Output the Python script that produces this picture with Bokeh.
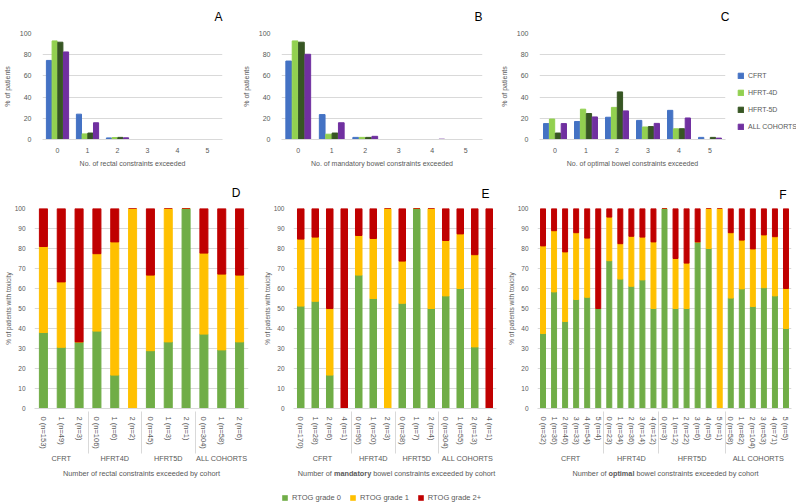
from bokeh.plotting import figure
from bokeh.models import (ColumnDataSource, FactorRange, Range1d, Legend, LegendItem, Label)
from bokeh.transform import dodge
from bokeh.layouts import row, column
from bokeh.embed import file_html
from bokeh.resources import INLINE

FONT = "Liberation Sans"
TXT = "#595959"
GRID = "#D9D9D9"

# ---------------- top row data (A, B, C) ----------------
n_exceeded = ["0", "1", "2", "3", "4", "5"]
series_names = ["CFRT", "HFRT-4D", "HFRT-5D", "ALL COHORTS"]
series_colors = ["#4472C4", "#92D050", "#375623", "#7030A0"]

rectal_cfrt = [74.6, 23.9, 1.5, 0, 0, 0]
rectal_hfrt4d = [93.0, 5.3, 1.8, 0, 0, 0]
rectal_hfrt5d = [91.8, 6.1, 2.0, 0, 0, 0]
rectal_all = [82.6, 15.8, 1.6, 0, 0, 0]

mand_cfrt = [74.0, 23.5, 2.0, 0, 0, 0]
mand_hfrt4d = [93.0, 5.0, 2.0, 0, 0, 0]
mand_hfrt5d = [91.8, 6.1, 2.0, 0, 0, 0]
mand_all = [80.4, 15.8, 3.0, 0, 0.3, 0]

opt_cfrt = [15.0, 17.0, 21.0, 18.0, 27.5, 2.0]
opt_hfrt4d = [19.3, 28.6, 30.3, 11.8, 10.1, 0]
opt_hfrt5d = [6.1, 24.5, 44.9, 12.2, 10.2, 2.0]
opt_all = [15.0, 21.3, 27.0, 15.2, 20.3, 1.3]

# ---------------- bottom row data (D, E, F) ----------------
grade_names = ["RTOG grade 0", "RTOG grade 1", "RTOG grade 2+"]
grade_colors = ["#70AD47", "#FFC000", "#C00000"]

rectal_cohort = ["CFRT"] * 3 + ["HFRT4D"] * 3 + ["HFRT5D"] * 3 + ["ALL COHORTS"] * 3
rectal_labels = ["0 (n=153)", "1 (n=49)", "2 (n=3)",
                 "0 (n=106)", "1 (n=6)", "2 (n=2)",
                 "0 (n=45)", "1 (n=3)", "2 (n=1)",
                 "0 (n=304)", "1 (n=58)", "2 (n=6)"]
rectal_g0 = [38.0, 30.6, 33.3, 38.7, 16.7, 0, 28.9, 33.3, 100, 37.2, 29.3, 33.3]
rectal_g1 = [43.0, 32.7, 0, 38.7, 66.6, 100, 37.8, 66.7, 0, 40.5, 37.9, 33.4]
rectal_g2 = [19.0, 36.7, 66.7, 22.6, 16.7, 0, 33.3, 0, 0, 22.3, 32.8, 33.3]

mand_cohort = ["CFRT"] * 4 + ["HFRT4D"] * 3 + ["HFRT5D"] * 3 + ["ALL COHORTS"] * 4
mand_labels = ["0 (n=170)", "1 (n=28)", "2 (n=6)", "4 (n=1)",
               "0 (n=96)", "1 (n=20)", "2 (n=3)",
               "0 (n=38)", "1 (n=7)", "2 (n=4)",
               "0 (n=304)", "1 (n=55)", "2 (n=13)", "4 (n=1)"]
mand_g0 = [51.2, 53.6, 16.7, 0, 66.7, 55.0, 0, 52.6, 100, 50.0, 56.3, 60.0, 30.8, 0]
mand_g1 = [33.5, 32.1, 33.3, 0, 19.8, 30.0, 100, 21.1, 0, 50.0, 27.7, 27.3, 46.1, 0]
mand_g2 = [15.3, 14.3, 50.0, 100, 13.5, 15.0, 0, 26.3, 0, 0, 16.0, 12.7, 23.1, 100]

opt_cohort = ["CFRT"] * 6 + ["HFRT4D"] * 5 + ["HFRT5D"] * 6 + ["ALL COHORTS"] * 6
opt_labels = ["0 (n=32)", "1 (n=36)", "2 (n=46)", "3 (n=33)", "4 (n=54)", "5 (n=4)",
              "0 (n=23)", "1 (n=34)", "2 (n=36)", "3 (n=14)", "4 (n=12)",
              "0 (n=3)", "1 (n=12)", "2 (n=22)", "3 (n=6)", "4 (n=5)", "5 (n=1)",
              "0 (n=58)", "1 (n=82)", "2 (n=104)", "3 (n=53)", "4 (n=71)", "5 (n=5)"]
opt_g0 = [37.5, 58.3, 43.5, 54.5, 55.6, 50.0, 73.9, 64.7, 61.1, 64.3, 50.0,
          100, 50.0, 50.0, 83.3, 80.0, 0, 55.2, 59.8, 51.0, 60.4, 56.3, 40.0]
opt_g1 = [43.8, 30.6, 34.8, 33.4, 29.6, 0, 21.8, 17.7, 25.0, 21.4, 33.3,
          0, 25.0, 22.7, 0, 20.0, 100, 32.7, 24.4, 28.8, 26.4, 29.6, 20.0]
opt_g2 = [18.7, 11.1, 21.7, 12.1, 14.8, 50.0, 4.3, 17.6, 13.9, 14.3, 16.7,
          0, 25.0, 27.3, 16.7, 0, 0, 12.1, 15.8, 20.2, 13.2, 14.1, 40.0]


def style(p):
    p.outline_line_color = None
    p.background_fill_color = "white"
    p.border_fill_color = "white"
    p.xgrid.grid_line_color = None
    p.ygrid.grid_line_color = GRID
    p.yaxis.axis_line_color = None
    p.yaxis.major_tick_line_color = None
    p.yaxis.minor_tick_line_color = None
    p.xaxis.axis_line_color = GRID
    p.xaxis.major_tick_line_color = None
    p.xaxis.minor_tick_line_color = None
    for ax in (p.xaxis[0], p.yaxis[0]):
        ax.major_label_text_font = FONT
        ax.major_label_text_font_size = "7px"
        ax.major_label_text_color = TXT
        ax.axis_label_text_font = FONT
        ax.axis_label_text_font_size = "7px"
        ax.axis_label_text_color = TXT
        ax.axis_label_text_font_style = "normal"
    p.title.text_font = FONT
    p.title.text_font_size = "12px"
    p.title.text_font_style = "normal"
    p.title.text_color = "black"
    p.title.align = "right"


def top_panel(letter, xlabel, vals, left, frame_w, right, t_off=0, legend=False):
    src = ColumnDataSource(dict(x=n_exceeded, s0=vals[0], s1=vals[1], s2=vals[2], s3=vals[3]))
    p = figure(x_range=FactorRange(*n_exceeded, range_padding=0), y_range=Range1d(0, 100),
               frame_width=frame_w, frame_height=106, min_border_left=left,
               min_border_right=right, min_border_top=33, min_border_bottom=35,
               output_backend="svg", toolbar_location=None, title=letter)
    offsets = [-0.285, -0.095, 0.095, 0.285]
    rs = []
    for i, col in enumerate(["s0", "s1", "s2", "s3"]):
        r = p.vbar(x=dodge("x", offsets[i], range=p.x_range), top=col, width=0.17,
                   source=src, color=series_colors[i])
        rs.append(r)
    style(p)
    p.title.standoff = 15
    p.title.vertical_align = "top"
    p.title.offset = t_off
    p.yaxis.ticker = [0, 20, 40, 60, 80, 100]
    p.yaxis.axis_label = "% of patients"
    p.xaxis.axis_label = xlabel
    p.yaxis.axis_label_standoff = 6
    p.yaxis.major_label_standoff = 5
    p.xaxis.major_label_standoff = 2
    p.xaxis.axis_label_standoff = 4
    if legend:
        lg = Legend(items=[LegendItem(label=series_names[i], renderers=[rs[i]]) for i in range(4)],
                    location=(12, 9), orientation="vertical",
                    glyph_width=7, glyph_height=7, label_height=8, spacing=9,
                    label_standoff=4, padding=0, margin=0,
                    label_text_font=FONT, label_text_font_size="7px", label_text_color=TXT,
                    background_fill_alpha=0, border_line_color=None)
        p.add_layout(lg, "right")
    return p


def stack_panel(letter, cohort, labels, g0, g1, g2, left, frame_w, right, top,
                t_off, t_standoff):
    factors = list(zip(cohort, labels))
    src = ColumnDataSource(dict(x=factors, g0=g0, g1=g1, g2=g2))
    p = figure(x_range=FactorRange(*factors, group_padding=0, factor_padding=0, range_padding=0),
               y_range=Range1d(0, 100), frame_width=frame_w, frame_height=200,
               min_border_left=left, min_border_right=right, min_border_top=top,
               min_border_bottom=55, output_backend="svg", toolbar_location=None,
               title=letter)
    p.vbar_stack(["g0", "g1", "g2"], x="x", width=0.45, color=grade_colors, source=src)
    style(p)
    p.title.standoff = t_standoff
    p.title.offset = t_off
    p.yaxis.ticker = list(range(0, 101, 10))
    p.yaxis.axis_label = "% of patients with toxicity"
    p.yaxis.axis_label_standoff = 0
    p.yaxis.major_label_standoff = 3
    p.yaxis.major_label_text_font_size = "6.5px"
    p.yaxis.axis_label_text_font_size = "6.5px"
    p.xaxis.major_label_orientation = "vertical"
    p.xaxis.major_label_text_font_size = "7.5px"
    p.xaxis.major_label_standoff = 2
    p.xaxis.group_text_font = FONT
    p.xaxis.group_text_font_size = "7.3px"
    p.xaxis.group_text_font_style = "normal"
    p.xaxis.group_text_color = TXT
    p.xaxis.separator_line_color = GRID
    p.xaxis.separator_line_width = 1
    return p


pA = top_panel("A", "No. of rectal constraints exceeded",
               [rectal_cfrt, rectal_hfrt4d, rectal_hfrt5d, rectal_all], 42, 180, 17)
pB = top_panel("B", "No. of mandatory bowel constraints exceeded",
               [mand_cfrt, mand_hfrt4d, mand_hfrt5d, mand_all], 41, 201, 15)
pC = top_panel("C", "No. of optimal bowel constraints exceeded",
               [opt_cfrt, opt_hfrt4d, opt_hfrt5d, opt_all], 41, 186, 73, t_off=-4, legend=True)

pD = stack_panel("D", rectal_cohort, rectal_labels, rectal_g0, rectal_g1, rectal_g2,
                 34, 214, 4, 34, 8, 17)
pE = stack_panel("E", mand_cohort, mand_labels, mand_g0, mand_g1, mand_g2,
                 41, 203, 7, 33, 7, 16)
pF = stack_panel("F", opt_cohort, opt_labels, opt_g0, opt_g1, opt_g2,
                 34, 254, 5, 33, 5, 14)

# footer: x-axis titles of D, E, F (with bold words) and the grade legend
foot = figure(x_range=Range1d(0, 796), y_range=Range1d(0, 38), frame_width=796,
              frame_height=38, min_border_left=0, min_border_right=0, min_border_top=0,
              min_border_bottom=0, x_axis_type=None, y_axis_type=None,
              output_backend="svg", toolbar_location=None)
foot.outline_line_color = None
foot.xgrid.visible = False
foot.ygrid.visible = False

xlabel_parts = [
    ("Number of rectal constraints exceeded by cohort", 141, "normal", "center"),
    ("Number of", 297.3, "normal", "left"),
    ("mandatory", 333.4, "bold", "left"),
    ("bowel constraints exceeded by cohort", 372.7, "normal", "left"),
    ("Number of", 571.9, "normal", "left"),
    ("optimal", 608.0, "bold", "left"),
    ("bowel constraints exceeded by cohort", 636.0, "normal", "left"),
]
for txt, x, style_, align in xlabel_parts:
    foot.add_layout(Label(x=x, y=30, text=txt, text_font=FONT, text_font_size="7.3px",
                          text_color=TXT, text_font_style=style_, text_align=align,
                          text_baseline="middle"))

# legend-only proxies (zero-size marks) carrying the grade colours
proxies = [foot.vbar(x=[0], top=[0], width=0, fill_color=c, line_color=None)
           for c in grade_colors]
leg = Legend(items=[LegendItem(label=grade_names[i], renderers=[proxies[i]]) for i in range(3)],
             location=(281, 1), orientation="horizontal",
             glyph_width=7, glyph_height=7, label_height=8, spacing=8,
             label_standoff=4, padding=0, margin=0,
             label_text_font=FONT, label_text_font_size="7.5px", label_text_color=TXT,
             background_fill_alpha=0, border_line_color=None)
foot.add_layout(leg, "center")

layout = column(row(pA, pB, pC, spacing=0), row(pD, pE, pF, spacing=0), foot, spacing=0)

open("out.html", "w").write(file_html(layout, INLINE))
